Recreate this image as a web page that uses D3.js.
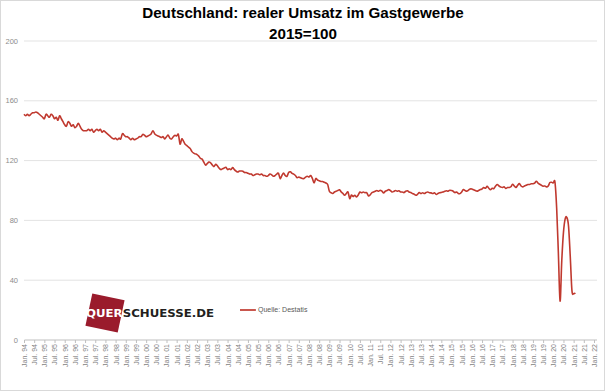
<!DOCTYPE html>
<html>
<head>
<meta charset="utf-8">
<script src="https://cdn.jsdelivr.net/npm/d3@7"></script>
<style>
  body { margin: 0; background: #fff; }
  svg { display: block; }
</style>
</head>
<body>
<div id="chart"></div>
<script>
// realer Umsatz im Gastgewerbe, 2015=100, monthly from Jan. 94
let umsatz = [
  151, 150, 151, 150, 151, 152, 152, 152.5, 152, 151, 150, 149,      // 1994
  148, 151, 150, 149, 151, 150, 148, 149, 147, 150, 148, 146,        // 1995
  144, 143, 146, 145, 143, 144, 142, 143, 145, 143, 141, 140,        // 1996
  140, 140, 141, 140, 141, 139, 140, 141, 140, 141, 139, 140,        // 1997
  139, 138, 137, 136, 135, 134.5, 135, 134, 135, 134.5, 138, 137,    // 1998
  136, 136, 135, 134, 135, 134, 134.5, 135, 136, 136, 137.5, 137,    // 1999
  136, 136.5, 137, 138, 140, 138, 137, 136.5, 136, 135.5, 136, 134.5,// 2000
  136, 137, 135, 134.5, 136, 137, 136.5, 137.5, 131, 134.5, 133, 131,// 2001
  130, 129, 128, 126, 125, 124.5, 124, 123, 121.5, 121, 119, 117,    // 2002
  118, 119, 118.5, 117, 116, 117.5, 116.5, 115, 114, 114.5, 115, 115.5, // 2003
  114, 114.5, 114, 115.3, 114, 113, 112.4, 113, 113, 112.9, 112, 112,   // 2004
  111.5, 111, 111, 110, 110.5, 111, 111, 110.5, 111, 110, 110, 109.5,   // 2005
  110, 111, 110.5, 109.5, 110, 111, 111.5, 108, 110, 111.7, 110, 109.5, // 2006
  112, 112.5, 111.5, 111, 110, 108.6, 109, 108.5, 108, 108, 109, 109.5, // 2007
  109, 110, 108, 105, 108, 107, 106.5, 106, 106, 105.5, 105, 104,       // 2008
  99.5, 98.5, 98, 99, 99.5, 100, 100.5, 99, 98, 96.8, 98, 99,           // 2009
  94.6, 97, 96, 96.8, 95.7, 97, 99, 98.5, 99, 98.5, 98.6, 96.5,         // 2010
  97, 98.5, 99, 99.5, 100, 99.5, 100.2, 99.5, 98.4, 99.5, 100, 100.6,   // 2011
  100, 99, 99.4, 100, 99.5, 99.8, 99, 99, 98.6, 99.5, 99.8, 99,         // 2012
  98.6, 98, 97.5, 96.8, 97.5, 98.6, 98, 98.5, 98, 98.6, 99, 98.5,       // 2013
  98.4, 98, 98.5, 97.3, 98, 98.5, 98.6, 99, 99.5, 99.8, 99.5, 100.2,    // 2014
  100, 99.5, 98.6, 99, 98, 97.9, 99, 100.6, 100, 99.5, 100.2, 101,      // 2015
  101, 100.5, 100, 99.6, 100, 100.6, 101, 102, 101.5, 102.8, 101.5, 100.6, // 2016
  101.5, 101.3, 103, 104, 103, 102.4, 102, 102.5, 101.3, 102, 102, 102.5,  // 2017
  104.2, 103, 102, 103.5, 104.6, 103, 102.4, 103, 103.5, 104, 104, 104.5,  // 2018
  104.5, 105, 106.2, 105, 104.2, 103.5, 102.9, 103, 102.4, 103, 105.3, 105.5, // 2019
  105, 105.5, 88, 58, 26, 53, 72, 81, 82, 76, 56, 33,                   // 2020
  31, 31.5                                                             // 2021
];

let yTicks = [0, 40, 80, 120, 160, 200];

let tickLabels = [
  "Jan. 94","Jul. 94","Jan. 95","Jul. 95","Jan. 96","Jul. 96","Jan. 97","Jul. 97",
  "Jan. 98","Jul. 98","Jan. 99","Jul. 99","Jan. 00","Jul. 00","Jan. 01","Jul. 01",
  "Jan. 02","Jul. 02","Jan. 03","Jul. 03","Jan. 04","Jul. 04","Jan. 05","Jul. 05",
  "Jan. 06","Jul. 06","Jan. 07","Jul. 07","Jan. 08","Jul. 08","Jan. 09","Jul. 09",
  "Jan. 10","Jul. 10","Jan. 11","Jul. 11","Jan. 12","Jul. 12","Jan. 13","Jul. 13",
  "Jan. 14","Jul. 14","Jan. 15","Jul. 15","Jan. 16","Jul. 16","Jan. 17","Jul. 17",
  "Jan. 18","Jul. 18","Jan. 19","Jul. 19","Jan. 20","Jul. 20","Jan. 21","Jul. 21",
  "Jan. 22"
];

let seriesName = "Quelle: Destatis";

// canvas
let W = 605, H = 391;
let margin = {top: 41, right: 8, bottom: 51, left: 24};
let width = 594 - margin.left,
    height = 340 - margin.top;

let svg = d3.select("#chart").append("svg")
  .attr("width", W)
  .attr("height", H);

svg.append("rect")
  .attr("x", 0.5).attr("y", 0.5)
  .attr("width", W - 1).attr("height", H - 1)
  .attr("fill", "#fff")
  .attr("stroke", "#d9d9d9");

// title
svg.append("text")
  .attr("x", 303).attr("y", 17.5)
  .attr("text-anchor", "middle")
  .style("font", "bold 15.2px 'Liberation Sans', Arial, sans-serif")
  .text("Deutschland: realer Umsatz im Gastgewerbe");
svg.append("text")
  .attr("x", 303).attr("y", 39)
  .attr("text-anchor", "middle")
  .style("font", "bold 15.2px 'Liberation Sans', Arial, sans-serif")
  .text("2015=100");

let g = svg.append("g")
  .attr("transform", "translate(" + margin.left + "," + margin.top + ")");

// scales (month index on x)
let nMonths = (tickLabels.length - 1) * 6;
let x = d3.scaleLinear().domain([0, nMonths]).range([0, width]);
let y = d3.scaleLinear().domain([0, 200]).range([height, 0]);

// gridlines
g.selectAll(".grid")
  .data(yTicks.filter(function(d){ return d > 0; }))
  .enter().append("line")
  .attr("x1", 0).attr("x2", 573)
  .attr("y1", function(d){ return y(d); })
  .attr("y2", function(d){ return y(d); })
  .attr("stroke", "#e3e3e3")
  .attr("stroke-width", 1);

// y labels
g.selectAll(".ylab")
  .data(yTicks)
  .enter().append("text")
  .attr("x", -6)
  .attr("y", function(d){ return y(d); })
  .attr("dy", "0.35em")
  .attr("text-anchor", "end")
  .attr("fill", "#8c8c8c")
  .style("font", "7.5px 'Liberation Sans', Arial, sans-serif")
  .text(function(d){ return d; });

// x axis
let xAxis = d3.axisBottom(x)
  .tickValues(d3.range(0, nMonths + 1, 6))
  .tickSize(3)
  .tickFormat(function(d, i){ return tickLabels[i]; });

let ax = g.append("g")
  .attr("transform", "translate(0," + height + ")")
  .call(xAxis);
ax.select(".domain").attr("stroke", "#bfbfbf").attr("d", "M0.5,0H573");
ax.selectAll(".tick line").attr("stroke", "#bfbfbf");
ax.selectAll(".tick text")
  .attr("fill", "#7f7f7f")
  .style("font", "7px 'Liberation Sans', Arial, sans-serif")
  .attr("text-anchor", "end")
  .attr("transform", "rotate(-90)")
  .attr("x", -4)
  .attr("y", 0)
  .attr("dy", "0.35em");

// line
let line = d3.line()
  .x(function(d, i){ return x(i); })
  .y(function(d){ return y(d); })
  .curve(d3.curveCardinal);

g.append("path")
  .datum(umsatz)
  .attr("fill", "none")
  .attr("stroke", "#c0392f")
  .attr("stroke-width", 1.6)
  .attr("stroke-linejoin", "round")
  .attr("d", line);

// logo
let logo = svg.append("g");
logo.append("rect")
  .attr("x", -16.5).attr("y", -16.5)
  .attr("width", 33).attr("height", 33)
  .attr("fill", "#9a1b2c")
  .attr("transform", "translate(105,313) rotate(12)");
let logoText = logo.append("text")
  .attr("x", 86).attr("y", 317)
  .attr("textLength", 128)
  .attr("lengthAdjust", "spacingAndGlyphs")
  .style("font", "bold 10px 'DejaVu Sans', Verdana, sans-serif");
logoText.append("tspan").attr("fill", "#fff").text("QUER");
logoText.append("tspan").attr("fill", "#231f20").text("SCHUESSE.DE");

// legend
svg.append("line")
  .attr("x1", 240).attr("x2", 256)
  .attr("y1", 310).attr("y2", 310)
  .attr("stroke", "#c0392f")
  .attr("stroke-width", 1.7);
svg.append("text")
  .attr("x", 258).attr("y", 310)
  .attr("dy", "0.35em")
  .attr("fill", "#595959")
  .style("font", "7px 'Liberation Sans', Arial, sans-serif")
  .text(seriesName);
</script>
</body>
</html>
